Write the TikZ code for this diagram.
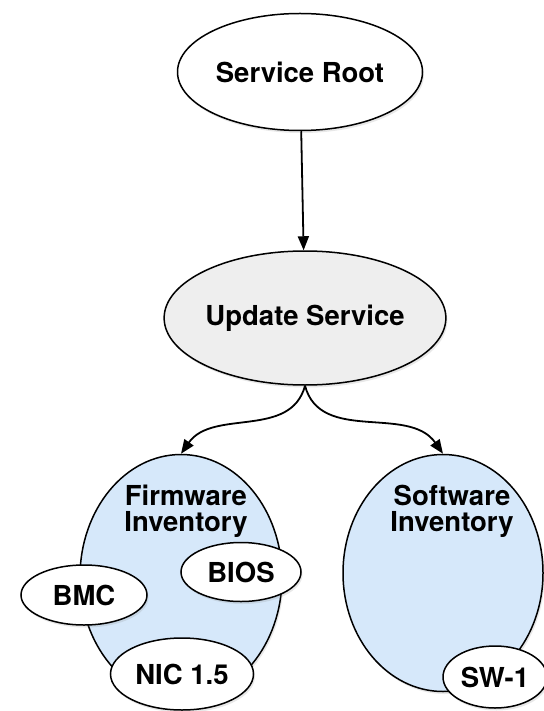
\documentclass[tikz,border=0pt]{standalone}
\usepackage{fontspec}
\setmainfont{TeX Gyre Heros}
\usetikzlibrary{shapes.geometric,arrows.meta,shadows}

\definecolor{svcgray}{RGB}{238,238,238}
\definecolor{invblue}{RGB}{214,232,250}

\begin{document}
\begin{tikzpicture}[x=1pt, y=1pt,
    every node/.style={font=\fontsize{27.5}{26}\selectfont\bfseries},
    blob/.style={ellipse, draw, line width=1.5pt, inner sep=0pt, fill=white,
      drop shadow={opacity=0.18, shadow xshift=1.5pt, shadow yshift=-2.5pt}},
    link/.style={line width=1.8pt, -{Triangle[length=14pt, width=11pt]}}]
    \useasboundingbox (0, 0) rectangle (543, -711);

    \node[blob, minimum width=245, minimum height=117] (root) at (300, -72) {Service Root};
    \node[blob, fill=svcgray, minimum width=246, minimum height=134] (update) at (305, -318) {Update Service};

    % inventories
    \node[blob, fill=invblue, minimum width=202, minimum height=245] (fw) at (181, -577) {};
    \node[align=center] (fwtext) at (186, -511) {Firmware\\Inventory};
    \node[blob, fill=invblue, minimum width=200, minimum height=237] (sw) at (443, -573) {};
    \node[align=center] (swtext) at (452, -511) {Software\\Inventory};

    \node[blob, minimum width=126, minimum height=60] (bmc) at (84, -595) {BMC};
    \node[blob, minimum width=120, minimum height=59] (bios) at (241, -572) {BIOS};
    \node[blob, minimum width=143, minimum height=72] (nic) at (182, -674) {NIC 1.5};
    \node[blob, minimum width=104, minimum height=62] (sw1) at (495, -677) {SW-1};

    \draw[link] (root) -- (update);
    \draw[link] (update.south) to[out=-105, in=55] (fw.north);
    \draw[link] (update.south) to[out=-75, in=125] (sw.north);
\end{tikzpicture}
\end{document}
